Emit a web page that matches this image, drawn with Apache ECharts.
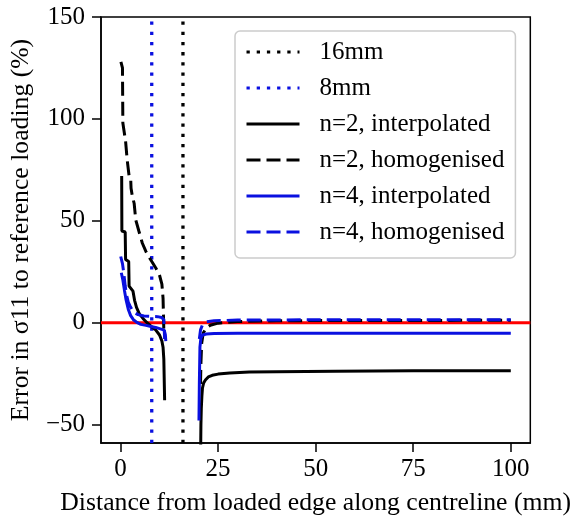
<!DOCTYPE html>
<html>
<head>
<meta charset="utf-8">
<script src="https://cdn.jsdelivr.net/npm/echarts@6/dist/echarts.min.js"></script>
<style>html,body{margin:0;padding:0;background:#fff;}#c{width:574px;height:524px;}</style>
</head>
<body>
<div id="c"></div>
<script>
// ---- data ----
const xTicks = [0, 25, 50, 75, 100];
const yTicks = [-50, 0, 50, 100, 150];
const xRange = [-5, 105];
const yRange = [-59, 150];
const line16 = 16;
const line8 = 8;
const legendNames = ['16mm', '8mm', 'n=2, interpolated', 'n=2, homogenised', 'n=4, interpolated', 'n=4, homogenised'];

const n2InterpLeft = [[0.3,72],[0.35,45],[1.2,44.5],[1.3,31],[2.1,30],[2.2,18],[3.2,15.5],[3.6,11],[4.1,7.5],[4.8,4.5],[5.8,2],[6.8,0],[8,-2],[9,-3.5],[10,-6],[10.6,-9],[10.9,-12],[11.1,-18],[11.3,-38]];
const n2InterpRight = [[20.5,-70],[20.6,-50],[20.7,-42],[20.85,-36],[21.0,-32],[21.3,-29.5],[21.8,-28],[22.5,-26.6],[23.5,-25.8],[25,-25.2],[28,-24.6],[33,-24.2],[40,-24],[55,-23.8],[75,-23.6],[100,-23.5]];

const n2HomogLeft = [[0.1,128],[0.5,125],[0.6,98],[1.3,89],[1.7,80],[2.2,72],[2.6,71],[2.7,66],[3.0,62.5],[3.5,58.5],[3.9,50.5],[4.7,45],[5.6,39],[6.5,35],[7.7,31],[9.0,27],[9.9,24],[10.6,19],[10.9,12],[11.0,4],[11.1,-4]];
const n2HomogRight = [[20.5,-30],[20.6,-20],[20.8,-10],[21.2,-5],[22,-2.5],[23,-1.2],[25,-0.2],[30,0.6],[40,1],[60,1.1],[100,1.2]];

const n4InterpLeft = [[0.2,24.5],[0.6,21],[1.0,16],[1.4,11.5],[2.0,6.5],[2.6,3.5],[3.3,1.5],[4.2,0.2],[5.2,-0.8],[6.5,-1.3],[7.8,-1.8],[9,-2.3],[10.2,-3],[11.2,-3.6],[11.5,-6],[11.6,-9]];
const n4InterpRight = [[20.1,-48],[20.2,-30],[20.35,-12],[20.6,-7.5],[21,-6],[22,-5.5],[24,-5.3],[30,-5.2],[60,-5.1],[100,-5.1]];

const n4HomogLeft = [[0.05,32.5],[0.5,29],[0.8,25],[1.2,18],[1.5,14],[2.0,10],[2.5,8],[3.0,6.2],[3.5,5],[4.5,4],[6,3.3],[8,3.1],[9.5,3],[10.5,2.6],[11.1,1.5],[11.3,-8]];
const n4HomogRight = [[20.2,-8],[20.5,-3.5],[21,-1],[22,0.4],[24,1],[30,1.3],[60,1.5],[100,1.5]];

// ---- build ----
const gap = [15, null];
function join(a, b) { return a.concat([gap], b); }
const BLUE = '#0a10e0';
const FONT = 'Liberation Serif';
const dashed = [14, 6];
const dotted = [3.3, 6.9];

const chart = echarts.init(document.getElementById('c'));
const fmt = v => String(v).replace('-', '\u2212');

const option = {
  animation: false,
  textStyle: { fontFamily: FONT, color: '#000' },
  grid: { left: 101, top: 17, right: 43, bottom: 81, show: true, borderColor: '#000', borderWidth: 1.5, backgroundColor: 'transparent' },
  xAxis: {
    type: 'value', min: xRange[0], max: xRange[1],
    name: 'Distance from loaded edge along centreline (mm)', nameLocation: 'middle', nameGap: 47,
    nameTextStyle: { fontFamily: FONT, fontSize: 25.7, color: '#000' },
    axisLine: { show: true, onZero: false, lineStyle: { color: '#000', width: 1.5 } },
    axisTick: { show: true, length: 9, lineStyle: { color: '#000', width: 1.5 }, customValues: xTicks },
    axisLabel: { fontFamily: FONT, fontSize: 25, color: '#000', margin: 14, customValues: xTicks, formatter: fmt },
    splitLine: { show: false }
  },
  yAxis: {
    type: 'value', min: yRange[0], max: yRange[1],
    name: 'Error in \u03c311 to reference loading (%)', nameLocation: 'middle', nameGap: 67,
    nameTextStyle: { fontFamily: FONT, fontSize: 25.7, color: '#000' },
    axisLine: { show: true, onZero: false, lineStyle: { color: '#000', width: 1.5 } },
    axisTick: { show: true, length: 9, lineStyle: { color: '#000', width: 1.5 }, customValues: yTicks },
    axisLabel: { fontFamily: FONT, fontSize: 25, color: '#000', margin: 16, customValues: yTicks, formatter: fmt },
    splitLine: { show: false }
  },
  legend: {
    orient: 'vertical', left: 235, top: 31,
    data: legendNames,
    itemWidth: 53, itemHeight: 26, itemGap: 10,
    padding: [8, 11, 13, 10],
    backgroundColor: '#fff', borderColor: '#cccccc', borderWidth: 1.5, borderRadius: 5,
    itemStyle: { opacity: 0 },
    lineStyle: { width: 3 },
    textStyle: { fontFamily: FONT, fontSize: 25, color: '#000', lineHeight: 26, padding: [0, 0, 0, 15] },
    selectedMode: false
  },
  series: [
    { name: 'zero', type: 'line', data: [[xRange[0], 0], [xRange[1], 0]], showSymbol: false, symbol: 'none', lineStyle: { color: '#ff0000', width: 3 }, z: 1 },
    { name: legendNames[0], type: 'line', data: [[line16, yRange[0]], [line16, yRange[1]]], symbol: 'none', lineStyle: { color: '#000', width: 3.3, type: dotted, cap: 'butt' }, itemStyle: { color: '#000' }, z: 2 },
    { name: legendNames[1], type: 'line', data: [[line8, yRange[0]], [line8, yRange[1]]], symbol: 'none', lineStyle: { color: BLUE, width: 3.3, type: dotted, cap: 'butt' }, itemStyle: { color: BLUE }, z: 2 },
    { name: legendNames[2], type: 'line', data: join(n2InterpLeft, n2InterpRight), symbol: 'none', connectNulls: false, lineStyle: { color: '#000', width: 3 }, itemStyle: { color: '#000' }, z: 3 },
    { name: legendNames[3], type: 'line', data: join(n2HomogLeft, n2HomogRight), symbol: 'none', connectNulls: false, lineStyle: { color: '#000', width: 3, type: dashed }, itemStyle: { color: '#000' }, z: 3 },
    { name: legendNames[4], type: 'line', data: join(n4InterpLeft, n4InterpRight), symbol: 'none', connectNulls: false, lineStyle: { color: BLUE, width: 3 }, itemStyle: { color: BLUE }, z: 4 },
    { name: legendNames[5], type: 'line', data: join(n4HomogLeft, n4HomogRight), symbol: 'none', connectNulls: false, lineStyle: { color: BLUE, width: 3, type: dashed }, itemStyle: { color: BLUE }, z: 4 }
  ]
};
chart.setOption(option);
</script>
</body>
</html>
